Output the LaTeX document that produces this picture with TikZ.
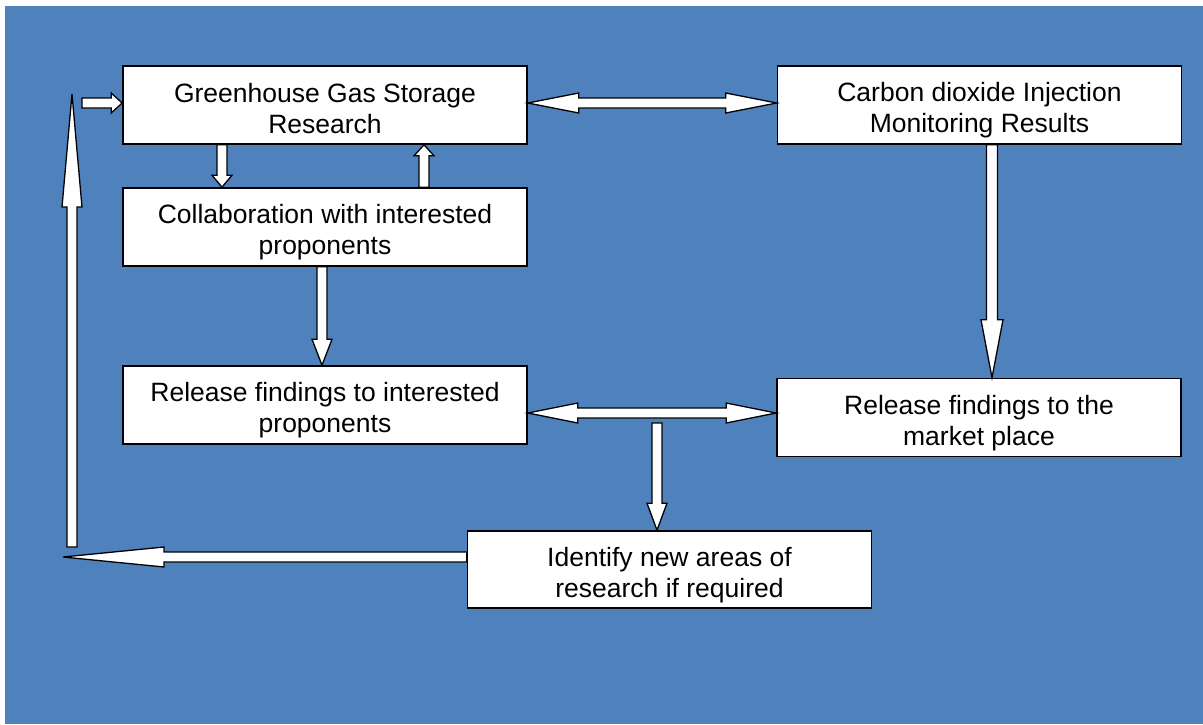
\documentclass[tikz,border=0pt]{standalone}
\usepackage{fontspec}
\setmainfont{Liberation Sans}
\usetikzlibrary{calc}

\definecolor{slideblue}{HTML}{4F81BD}
\newcommand{\tstrut}{\rule{0pt}{30pt}}
\newcommand{\bstrut}{\rule[-5pt]{0pt}{5pt}}

\tikzset{
	box/.style={shape=rectangle, draw=black, line width=1.6pt, fill=white, align=center,
		inner sep=0pt, minimum width=404pt, minimum height=78pt,
		font=\fontsize{26.5}{31}\selectfont},
	% block arrow: shaft half width, head half width, head length
	blockarrow/.style n args={3}{draw=black, line width=1.3pt, fill=white,
		to path={($(\tikztostart)!#1!90:(\tikztotarget)$)
			-- ($(\tikztotarget)!#3!(\tikztostart)!#1!90:(\tikztotarget)$)
			-- ($(\tikztotarget)!#3!(\tikztostart)!#2!90:(\tikztotarget)$)
			-- (\tikztotarget)
			-- ($(\tikztotarget)!#3!(\tikztostart)!#2!-90:(\tikztotarget)$)
			-- ($(\tikztotarget)!#3!(\tikztostart)!#1!-90:(\tikztotarget)$)
			-- ($(\tikztostart)!#1!-90:(\tikztotarget)$) -- cycle}},
	doublearrow/.style n args={3}{draw=black, line width=1.3pt, fill=white,
		to path={(\tikztostart)
			-- ($(\tikztostart)!#3!(\tikztotarget)!#2!90:(\tikztotarget)$)
			-- ($(\tikztostart)!#3!(\tikztotarget)!#1!90:(\tikztotarget)$)
			-- ($(\tikztotarget)!#3!(\tikztostart)!#1!90:(\tikztotarget)$)
			-- ($(\tikztotarget)!#3!(\tikztostart)!#2!90:(\tikztotarget)$)
			-- (\tikztotarget)
			-- ($(\tikztotarget)!#3!(\tikztostart)!#2!-90:(\tikztotarget)$)
			-- ($(\tikztotarget)!#3!(\tikztostart)!#1!-90:(\tikztotarget)$)
			-- ($(\tikztostart)!#3!(\tikztotarget)!#1!-90:(\tikztotarget)$)
			-- ($(\tikztostart)!#3!(\tikztotarget)!#2!-90:(\tikztotarget)$) -- cycle}},
}

\begin{document}
\begin{tikzpicture}[x=1pt, y=-1pt]
		\useasboundingbox (0,0) rectangle (1203,724);
		\fill[slideblue] (5,6) rectangle (1203,724);

		\node[box] (ghg) at (325,105) {\tstrut Greenhouse Gas Storage\\Research\bstrut};
		\node[box] (co2) at (979.5,105) {\tstrut Carbon dioxide Injection\\Monitoring Results\bstrut};
		\node[box] (collab) at (325,227) {\tstrut Collaboration with interested\\proponents\bstrut};
		\node[box] (relprop) at (325,405) {\tstrut Release findings to interested\\proponents\bstrut};
		\node[box] (relmkt) at (979,417.5) {\tstrut Release findings to the\\market place\bstrut};
		\node[box, minimum height=77pt] (newarea) at (669.5,569.5) {\tstrut Identify new areas of\\research if required\bstrut};

		\coordinate (loopin) at (82,103);
		\coordinate (looptop) at (72,94);
		\coordinate (loopbot) at (72,547);
		\coordinate (loopcorner) at (63,557);
		\coordinate (split) at (657,423);

		\path (loopin) edge[blockarrow={5pt}{10pt}{11pt}] (ghg.west |- 0,103);
		\path (loopbot) edge[blockarrow={5pt}{10pt}{113pt}] (looptop);
		\path (newarea.west |- 0,557) edge[blockarrow={5pt}{10pt}{101pt}] (loopcorner);
		\path (ghg.south -| 222,0) edge[blockarrow={5pt}{10pt}{12pt}] (collab.north -| 222,0);
		\path (collab.north -| 424,0) edge[blockarrow={5pt}{10pt}{11pt}] (ghg.south -| 424,0);
		\path (collab.south -| 322,0) edge[blockarrow={5pt}{10pt}{26pt}] (relprop.north -| 322,0);
		\path (co2.south -| 992,0) edge[blockarrow={5.5pt}{11pt}{58pt}] (relmkt.north -| 992,0);
		\path (ghg.east |- 0,103) edge[doublearrow={5pt}{10pt}{51pt}] (co2.west |- 0,103);
		\path (relprop.east |- 0,413) edge[doublearrow={5pt}{10pt}{50pt}] (relmkt.west |- 0,413);
		\path (split) edge[blockarrow={5pt}{10pt}{27pt}] (newarea.north -| 657,0);
	\end{tikzpicture}
\end{document}
